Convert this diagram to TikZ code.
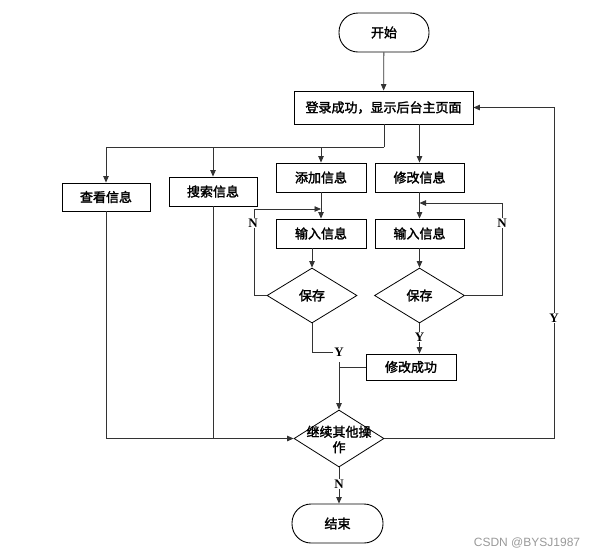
\documentclass[tikz,border=0pt]{standalone}
\usepackage{fontspec}
\setmainfont{Liberation Serif}
\newfontfamily\cjk[FakeBold=2]{Noto Sans CJK SC}
\newfontfamily\wmfont{Liberation Sans}
\usetikzlibrary{arrows.meta,shapes.geometric}
\begin{document}
\begin{tikzpicture}[x=1pt,y=-1pt,
  box/.style={draw=black, line width=0.9pt, fill=white, minimum height=29pt, inner sep=0pt,
    font=\cjk\fontsize{13}{14}\selectfont},
  term/.style={box, rounded corners=19pt, minimum width=90pt, minimum height=39pt},
  dia/.style={draw=black, line width=0.8pt, diamond, minimum width=90pt, minimum height=55pt,
    inner sep=0pt, font=\cjk\fontsize{13}{14}\selectfont},
  conn/.style={line width=0.8pt, draw=black!80},
  arr/.style={conn, -{Triangle[length=6.5pt,width=5.5pt]}},
  lab/.style={font=\fontsize{13}{13}\selectfont\bfseries, fill=white, inner sep=1pt}]
\useasboundingbox (0,0) rectangle (599,558);

% nodes
\node[term] (start) at (384,32.5) {开始};
\node[box, minimum width=179pt, minimum height=33pt] (main) at (383.5,107.5) {登录成功，显示后台主页面};
\node[box, minimum width=88pt, minimum height=28pt] (view) at (106,197) {查看信息};
\node[box, minimum width=88pt] (search) at (213,191.5) {搜索信息};
\node[box, minimum width=90pt] (add) at (321,177.5) {添加信息};
\node[box, minimum width=89pt] (modify) at (419.5,177.5) {修改信息};
\node[box, minimum width=90pt] (in1) at (321,233.5) {输入信息};
\node[box, minimum width=89pt] (in2) at (419.5,233.5) {输入信息};
\node[dia] (save1) at (312,295.5) {保存};
\node[dia] (save2) at (419.5,295.5) {保存};
\node[box, minimum width=90pt, minimum height=26pt] (done) at (411,367) {修改成功};
\node[dia, minimum height=57pt] (cont) at (339,438.5) {};
\node[font=\cjk\fontsize{13}{15.5}\selectfont, align=center, inner sep=0pt] (conttext) at (339,439.5) {继续其他操\\作};
\node[term, minimum width=91pt] (end) at (337.5,523.5) {结束};

% helper coordinates
\coordinate (h) at (384,147);
\coordinate (n1) at (254,209);
\coordinate (n2) at (502,203);
\coordinate (y1) at (333,352);
\coordinate (j) at (339,362);
\coordinate (r) at (554,439);

% connectors
\draw[arr] (start) -- (main);
\draw[conn] (main.south -| h) -- (h);
\draw[arr] (h) -| (view.north);
\draw[arr] (search.north |- h) -- (search.north);
\draw[arr] (add.north |- h) -- (add.north);
\draw[arr] (main.south -| modify.north) -- (modify.north);
\draw[arr] (add) -- (in1);
\draw[arr] (modify) -- (in2);
\draw[arr] (in1.south -| save1.north) -- (save1.north);
\draw[arr] (in2) -- (save2);
\draw[arr] (save1.west) -| (n1) -- (n1 -| in1.north);
\draw[arr] (save2.east) -| (n2) -- (n2 -| in2.north);
\draw[conn] (save1.south) |- (y1);
\draw[arr] (save2.south) -- (done.north -| save2.south);
\draw[conn] (done.west) -- (done.west -| j);
\draw[arr] (j) -- (cont.north);
\draw[arr] (view.south) |- (cont.west);
\draw[conn] (search.south) -- (search.south |- cont.west);
\draw[arr] (cont.east) -- (cont.east -| r) |- (main.east);
\draw[arr] (cont.south) -- (cont.south |- end.north);

% labels
\node[lab] (N1) at (253,223) {N};
\node[lab] (N2) at (502,223) {N};
\node[lab] (Y1) at (339,352) {Y};
\node[lab] (Y2) at (419.5,337) {Y};
\node[lab] (Y3) at (554,318) {Y};
\node[lab] (N3) at (339,484) {N};

\node[font=\wmfont\fontsize{12}{12}\selectfont, text=black!40] (wm) at (527,543) {CSDN @BYSJ1987};
\end{tikzpicture}
\end{document}
